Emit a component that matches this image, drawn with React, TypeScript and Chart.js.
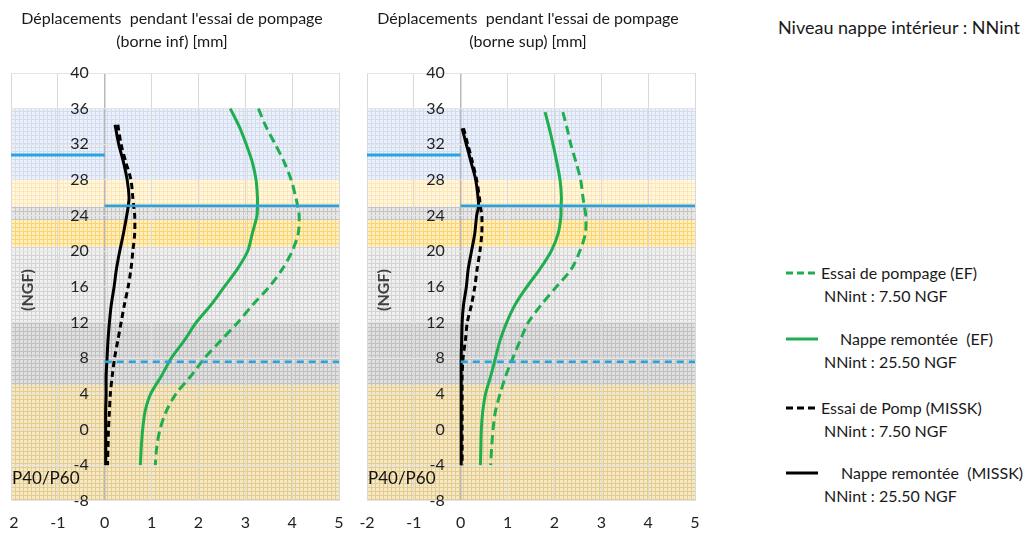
import React, { useEffect, useRef } from 'react';
import { Chart, registerables } from 'chart.js';

Chart.register(...registerables);

// ---------- DATA ----------
const X_MIN = -2;
const X_MAX = 5;
const Y_MIN = -8;
const Y_MAX = 40;
const Y_STEP = 4;

// geological layers (NGF): top / bottom
const bandTops = [36, 28, 25, 23.5, 20.5, 12, 5];
const bandBottoms = [28, 25, 23.5, 20.5, 12, 5, -8];

// water levels (NGF)
const levelOutside = [30.8, 30.8];
const levelOutsideX = [-2, 0];
const levelHigh = [25.1, 25.1];
const levelLow = [7.6, 7.6];
const levelInsideX = [0, 5];

// depths (NGF) for the curves
const depthGreenLeft = [36, 34, 32, 30, 28, 26, 25, 24, 22, 20, 18, 16, 14, 12, 10, 8, 6, 4, 2, 0, -2, -4];
const depthBlackLeft = [34.2, 32, 30, 28, 26, 25, 24, 22, 20, 18, 16, 14, 12, 10, 8, 6, 4, 2, 0, -2, -4];
const depthGreenRight = [35.6, 34, 32, 30, 28, 26, 25, 24, 22, 20, 18, 16, 14, 12, 10, 8, 6, 4, 2, 0, -2, -4];
const depthBlackRight = [33.8, 32, 30, 28, 26, 25, 24, 22, 20, 18, 16, 14, 12, 10, 8, 6, 4, 2, 0, -2, -4];

// displacements [mm] - borne inf
const infPompEF = [3.28, 3.44, 3.64, 3.83, 3.98, 4.08, 4.12, 4.15, 4.13, 4.0, 3.79, 3.51, 3.16, 2.84, 2.48, 2.13, 1.84, 1.52, 1.31, 1.18, 1.11, 1.08];
const infNappeEF = [2.68, 2.87, 3.02, 3.15, 3.23, 3.26, 3.26, 3.25, 3.15, 3.05, 2.83, 2.55, 2.27, 1.95, 1.7, 1.42, 1.21, 0.98, 0.86, 0.81, 0.78, 0.76];
const infPompMISSK = [0.28, 0.35, 0.45, 0.56, 0.6, 0.62, 0.64, 0.64, 0.6, 0.56, 0.5, 0.42, 0.35, 0.28, 0.21, 0.16, 0.12, 0.1, 0.08, 0.07, 0.06];
const infNappeMISSK = [0.22, 0.3, 0.4, 0.48, 0.52, 0.5, 0.47, 0.4, 0.32, 0.25, 0.2, 0.14, 0.1, 0.07, 0.05, 0.03, 0.03, 0.02, 0.02, 0.02, 0.02];

// displacements [mm] - borne sup
const supPompEF = [2.18, 2.26, 2.35, 2.46, 2.56, 2.61, 2.64, 2.67, 2.66, 2.54, 2.36, 2.04, 1.72, 1.44, 1.27, 1.11, 0.96, 0.84, 0.74, 0.69, 0.66, 0.64];
const supNappeEF = [1.8, 1.88, 1.97, 2.05, 2.12, 2.15, 2.14, 2.14, 2.08, 1.93, 1.69, 1.41, 1.16, 0.98, 0.84, 0.74, 0.64, 0.53, 0.47, 0.44, 0.43, 0.42];
const supPompMISSK = [0.06, 0.15, 0.25, 0.34, 0.4, 0.42, 0.45, 0.45, 0.41, 0.35, 0.3, 0.23, 0.14, 0.1, 0.05, 0.03, 0.03, 0.03, 0.03, 0.03, 0.03];
const supNappeMISSK = [0.03, 0.12, 0.22, 0.32, 0.37, 0.38, 0.34, 0.3, 0.23, 0.16, 0.12, 0.06, 0.03, 0.02, 0.01, 0.01, 0.01, 0.01, 0.01, 0.01, 0.01];

const titleLeft = ["Déplacements  pendant l'essai de pompage", '(borne inf) [mm]'];
const titleRight = ["Déplacements  pendant l'essai de pompage", '(borne sup) [mm]'];
const legendTitle = 'Niveau nappe intérieur : NNint';
const legendLabels = ['Essai de pompage (EF)', 'Nappe remontée  (EF)', 'Essai de Pomp (MISSK)', 'Nappe remontée  (MISSK)'];
const legendSubs = ['NNint : 7.50 NGF', 'NNint : 25.50 NGF', 'NNint : 7.50 NGF', 'NNint : 25.50 NGF'];
const yAxisTitle = '(NGF)';
const sectionLabel = 'P40/P60';

// ---------- STYLES ----------
const FONT = 'Lato, "Open Sans", "DejaVu Sans", sans-serif';
const GREEN = '#1fae4f';
const BLACK = '#000000';
const BLUE = '#27a4df';
const Y_LABEL_OFFSET = -0.34; // y tick labels sit a little left of x = 0
const bandStyles = [
  ['#ebf0f9', '#d3ddf1'],
  ['#fff7e2', '#fde7b2'],
  ['#e7e7e7', '#c4c4c4'],
  ['#ffefbf', '#fcd471'],
  ['#f0f0f0', '#d4d4d4'],
  ['#e0e0e0', '#c0c0c0'],
  ['#f5e8c4', '#e4cc90'],
];

function makePattern(ctx: CanvasRenderingContext2D, base: string, line: string) {
  const c = document.createElement('canvas');
  c.width = 4;
  c.height = 4;
  const g = c.getContext('2d')!;
  g.fillStyle = base;
  g.fillRect(0, 0, 4, 4);
  g.fillStyle = line;
  g.fillRect(0, 3, 4, 1);
  g.fillRect(3, 0, 1, 4);
  return ctx.createPattern(c, 'repeat');
}

const toPts = (xs: number[], ys: number[]) => xs.map((x, i) => ({ x, y: ys[i] }));

function curve(xs: number[], ys: number[], color: string, dash: number[]) {
  return {
    data: toPts(xs, ys),
    showLine: true,
    borderColor: color,
    backgroundColor: color,
    borderWidth: 3,
    borderDash: dash,
    pointRadius: 0,
    tension: 0.3,
    fill: false,
  };
}

function level(xs: number[], ys: number[], dash: number[], width: number) {
  return {
    data: toPts(xs, ys),
    showLine: true,
    borderColor: BLUE,
    backgroundColor: BLUE,
    borderWidth: width,
    borderDash: dash,
    pointRadius: 0,
    tension: 0,
    fill: false,
  };
}

function makeConfig(
  series: { pompEF: number[]; nappeEF: number[]; pompM: number[]; nappeM: number[]; dG: number[]; dB: number[] },
  title: string[]
): any {
  const bandPlugin = {
    id: 'bands',
    beforeDraw(chart: any) {
      const { ctx, chartArea, scales } = chart;
      ctx.save();
      for (let i = 0; i < bandTops.length; i++) {
        const y1 = scales.y.getPixelForValue(bandTops[i]);
        const y2 = scales.y.getPixelForValue(bandBottoms[i]);
        ctx.fillStyle = makePattern(ctx, bandStyles[i][0], bandStyles[i][1]);
        ctx.fillRect(chartArea.left, y1, chartArea.right - chartArea.left, y2 - y1);
      }
      ctx.restore();
    },
  };
  const textPlugin = {
    id: 'texts',
    afterDraw(chart: any) {
      const { ctx, chartArea } = chart;
      ctx.save();
      ctx.fillStyle = '#1a1a1a';
      ctx.font = `16px ${FONT}`;
      ctx.textAlign = 'center';
      ctx.textBaseline = 'middle';
      const cx = (chartArea.left + chartArea.right) / 2 - 3;
      ctx.fillText(title[0], cx, 19);
      ctx.fillText(title[1], cx, 42);
      ctx.textAlign = 'left';
      ctx.font = `17px ${FONT}`;
      ctx.fillStyle = '#111';
      ctx.fillText(sectionLabel, chartArea.left + 1, chartArea.bottom - 22);
      ctx.translate(28, 290);
      ctx.rotate(-Math.PI / 2);
      ctx.textAlign = 'center';
      ctx.font = `bold 16px ${FONT}`;
      ctx.fillStyle = '#404040';
      ctx.fillText(yAxisTitle, 0, 0);
      ctx.restore();
    },
  };
  return {
    type: 'scatter',
    data: {
      datasets: [
        level(levelOutsideX, levelOutside, [], 3),
        level(levelInsideX, levelHigh, [], 2.5),
        level(levelInsideX, levelLow, [7, 5], 2.5),
        curve(series.nappeM, series.dB, BLACK, []),
        curve(series.pompM, series.dB, BLACK, [6, 4]),
        curve(series.nappeEF, series.dG, GREEN, []),
        curve(series.pompEF, series.dG, GREEN, [9, 5]),
      ],
    },
    options: {
      responsive: false,
      animation: false,
      events: [],
      layout: { padding: { left: 11, right: 16, top: 73, bottom: 2 } },
      plugins: { legend: { display: false }, tooltip: { enabled: false }, title: { display: false } },
      scales: {
        x: {
          type: 'linear',
          min: X_MIN,
          max: X_MAX,
          position: 'bottom',
          ticks: { stepSize: 1, padding: 0, color: '#222', font: { family: FONT, size: 16 } },
          grid: {
            color: (c: any) => (c.tick && c.tick.value === 0 ? '#b8b8b8' : '#d9d9d9'),
            lineWidth: (c: any) => (c.tick && c.tick.value === 0 ? 1.5 : 1),
            drawTicks: true,
            tickLength: 12,
            tickColor: 'rgba(0,0,0,0)',
          },
          border: { display: false },
        },
        y: {
          type: 'linear',
          min: Y_MIN,
          max: Y_MAX,
          position: { x: Y_LABEL_OFFSET },
          ticks: { stepSize: Y_STEP, padding: 0, color: '#222', font: { family: FONT, size: 16 } },
          grid: { color: '#e4e4e4', drawTicks: false },
          border: { display: false },
        },
      },
    },
    plugins: [bandPlugin, textPlugin],
  };
}

const legendTops = [273, 339, 408, 473];
const legendTextX = [821, 840, 821, 841];

function LegendLine({ color, dashed }: { color: string; dashed: boolean }) {
  return (
    <svg width={32} height={6} style={{ display: 'block' }}>
      <line x1={0} y1={3} x2={32} y2={3} stroke={color} strokeWidth={3} strokeDasharray={dashed ? '7 4' : undefined} />
    </svg>
  );
}

export default function App() {
  const leftRef = useRef<HTMLCanvasElement>(null);
  const rightRef = useRef<HTMLCanvasElement>(null);

  useEffect(() => {
    document.body.style.margin = '0';
    const c1 = new Chart(
      leftRef.current!,
      makeConfig(
        { pompEF: infPompEF, nappeEF: infNappeEF, pompM: infPompMISSK, nappeM: infNappeMISSK, dG: depthGreenLeft, dB: depthBlackLeft },
        titleLeft
      )
    );
    const c2 = new Chart(
      rightRef.current!,
      makeConfig(
        { pompEF: supPompEF, nappeEF: supNappeEF, pompM: supPompMISSK, nappeM: supNappeMISSK, dG: depthGreenRight, dB: depthBlackRight },
        titleRight
      )
    );
    return () => {
      c1.destroy();
      c2.destroy();
    };
  }, []);

  const colors = [GREEN, GREEN, BLACK, BLACK];
  const dashes = [true, false, true, false];

  return (
    <div style={{ position: 'relative', width: 1032, height: 534, background: '#fff', overflow: 'hidden', fontFamily: FONT, color: '#1a1a1a' }}>
      <div style={{ position: 'absolute', left: 9, top: 0, width: 346, height: 534, overflow: 'hidden' }}>
        <canvas ref={leftRef} width={355} height={534} style={{ position: 'absolute', left: -9, top: 0, width: 355, height: 534 }} />
      </div>
      <canvas ref={rightRef} width={355} height={534} style={{ position: 'absolute', left: 356, top: 0, width: 355, height: 534 }} />
      <div style={{ position: 'absolute', left: 778, top: 15, fontSize: 18, lineHeight: '24px', whiteSpace: 'nowrap' }}>{legendTitle}</div>
      {legendLabels.map((lab, i) => (
        <React.Fragment key={i}>
          <div style={{ position: 'absolute', left: 786, top: legendTops[i] - 3 }}>
            <LegendLine color={colors[i]} dashed={dashes[i]} />
          </div>
          <div style={{ position: 'absolute', left: legendTextX[i], top: legendTops[i] - 11, fontSize: 16, lineHeight: '22px', whiteSpace: 'pre' }}>{lab}</div>
          <div style={{ position: 'absolute', left: 824, top: legendTops[i] + 12, fontSize: 16, lineHeight: '22px', whiteSpace: 'pre' }}>{legendSubs[i]}</div>
        </React.Fragment>
      ))}
    </div>
  );
}
